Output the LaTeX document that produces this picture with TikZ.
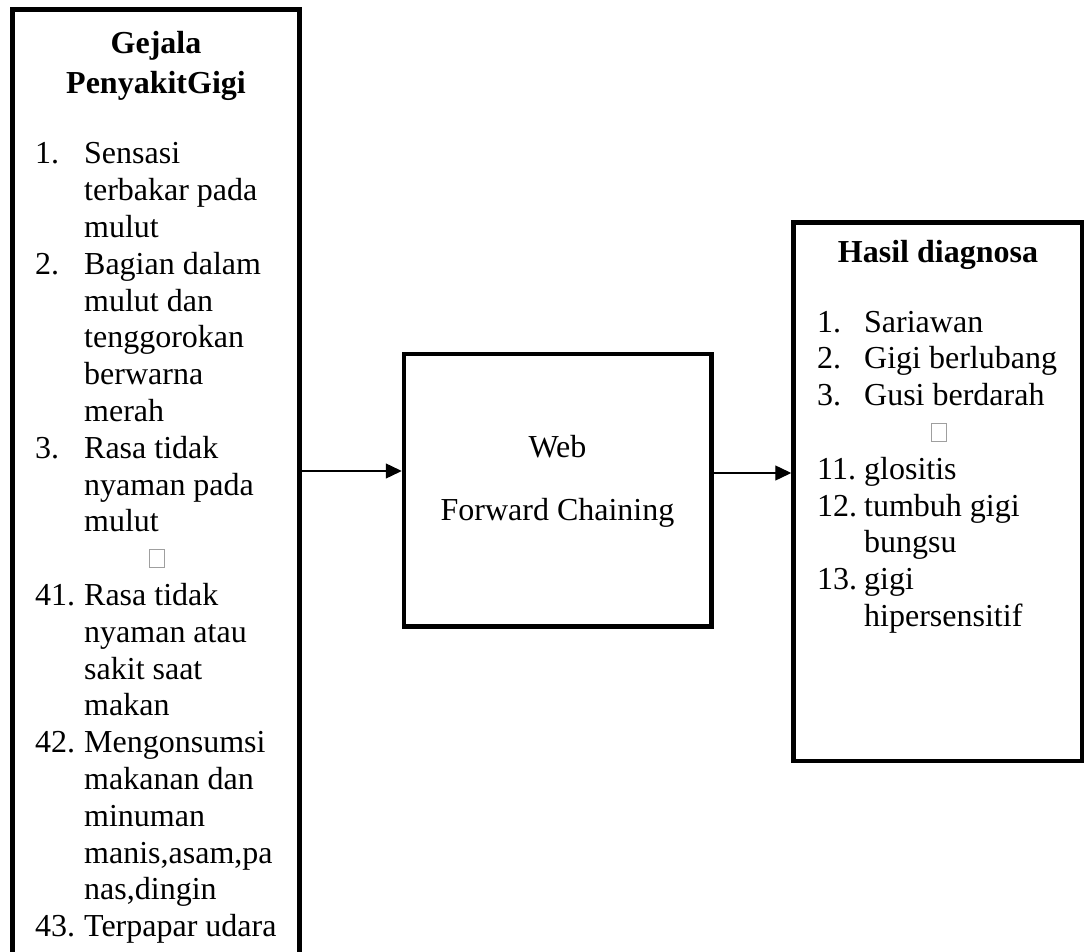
\documentclass[tikz,border=0pt]{standalone}
\usepackage{fontspec}
\setmainfont{Liberation Serif}
\usetikzlibrary{arrows.meta}
\newcommand\numitem[3]{\makebox[#1][l]{#2}#3\par}
\newcommand\contline[2]{\hspace*{#1}#2\par}
\newcommand\listbody[1]{\vtop{\hsize=262pt\parindent=0pt\parskip=0pt\hyphenpenalty=10000\rightskip=0pt plus 1fil #1}}
\begin{document}
\begin{tikzpicture}[x=1pt,y=-1pt,
  box/.style={draw,line width=4.5pt,inner sep=0pt,outer sep=0pt},
  lbl/.style={inner sep=0pt,font=\fontsize{32}{36.8}\selectfont},
  head/.style={inner sep=0pt,font=\fontsize{32}{36.8}\selectfont\bfseries},
  arr/.style={line width=1.4pt,-{Triangle[length=16pt,width=15pt]},shorten >=2.25pt},
  dotbox/.style={draw=gray!75,line width=0.8pt,fill=white,minimum width=15pt,minimum height=18pt,inner sep=0pt}]
\useasboundingbox (0,0) rectangle (1085,952);

% boxes
\node[box,anchor=north west,minimum width=287pt,minimum height=980pt] (L) at (12.5,9.5) {};
\node[box,anchor=north west,minimum width=307.5pt,minimum height=272.5pt] (M) at (404,354) {};
\node[box,anchor=north west,minimum width=288.5pt,minimum height=538.5pt] (R) at (793.5,222.5) {};

% arrows
\coordinate (a1) at (0,471);
\coordinate (a2) at (0,473);
\draw[arr] (a1 -| L.east) -- (a1 -| M.west);
\draw[arr] (a2 -| M.east) -- (a2 -| R.west);

% headings
\node[head,anchor=base] (h1) at (156,54) {Gejala};
\node[head,anchor=base] (h2) at (156,94) {PenyakitGigi};
\node[head,anchor=base] (h3) at (938,263) {Hasil diagnosa};

% middle text
\node[lbl,anchor=base] (w1) at (557.5,457) {Web};
\node[lbl,anchor=base] (w2) at (557.5,520) {Forward Chaining};

% left list
\node[lbl,anchor=base west] (ll) at (35,164) {\listbody{%
\numitem{49pt}{1.}{Sensasi}
\contline{49pt}{terbakar pada}
\contline{49pt}{mulut}
\numitem{49pt}{2.}{Bagian dalam}
\contline{49pt}{mulut dan}
\contline{49pt}{tenggorokan}
\contline{49pt}{berwarna}
\contline{49pt}{merah}
\numitem{49pt}{3.}{Rasa tidak}
\contline{49pt}{nyaman pada}
\contline{49pt}{mulut}
\mbox{}\par
\numitem{49pt}{41.}{Rasa tidak}
\contline{49pt}{nyaman atau}
\contline{49pt}{sakit saat}
\contline{49pt}{makan}
\numitem{49pt}{42.}{Mengonsumsi}
\contline{49pt}{makanan dan}
\contline{49pt}{minuman}
\contline{49pt}{manis,asam,pa}
\contline{49pt}{nas,dingin}
\numitem{49pt}{43.}{Terpapar udara}}};

% right list
\node[lbl,anchor=base west] (rl) at (817,332) {\listbody{%
\numitem{47pt}{1.}{Sariawan}
\numitem{47pt}{2.}{Gigi berlubang}
\numitem{47pt}{3.}{Gusi berdarah}
\mbox{}\par
\numitem{47pt}{11.}{glositis}
\numitem{47pt}{12.}{tumbuh gigi}
\contline{47pt}{bungsu}
\numitem{47pt}{13.}{gigi}
\contline{47pt}{hipersensitif}}};

% placeholder squares
\node[dotbox] (ld) at (157,558.5) {};
\node[dotbox] (rd) at (939,432.5) {};
\end{tikzpicture}
\end{document}
